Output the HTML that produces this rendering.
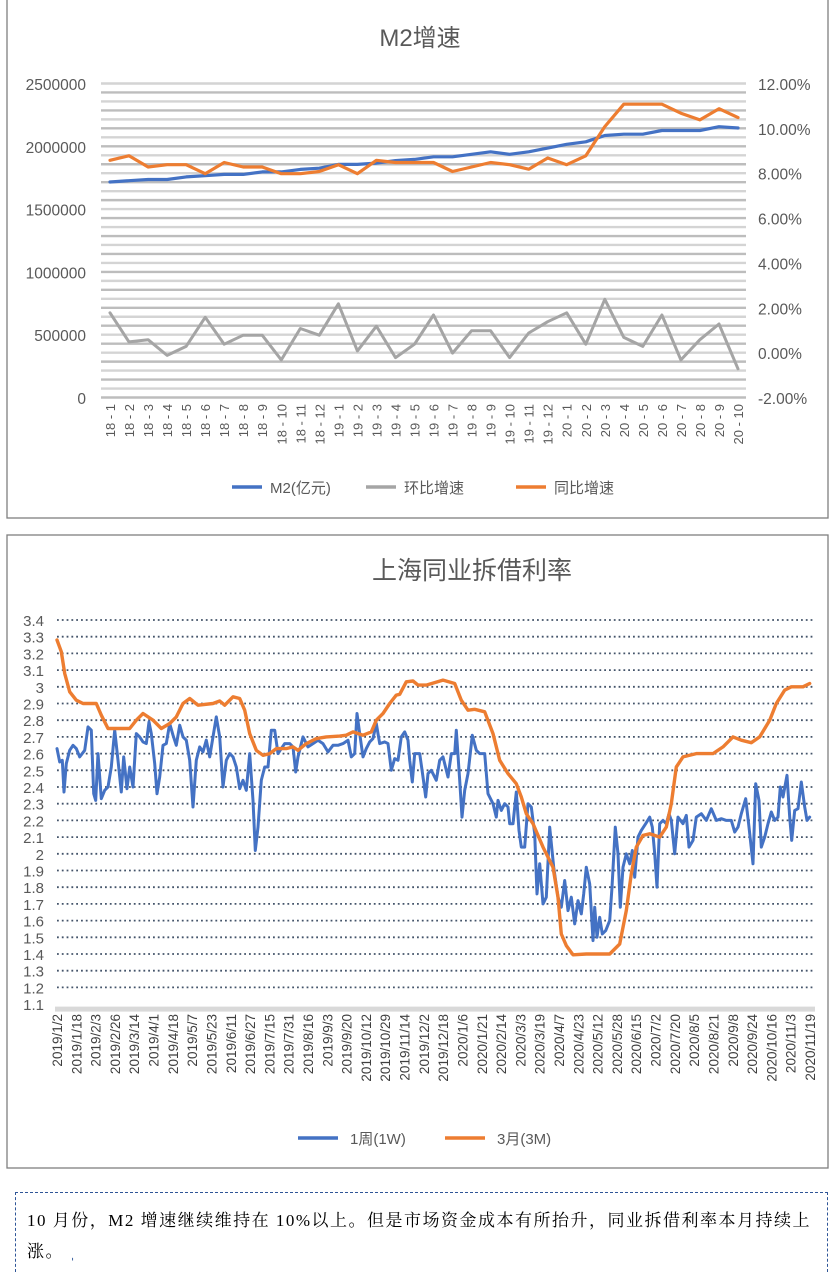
<!DOCTYPE html>
<html><head><meta charset="utf-8"><style>
body{margin:0;width:834px;height:1274px;background:#fff;overflow:hidden;font-family:"Liberation Sans","Noto Sans CJK SC",sans-serif}
svg{position:absolute;left:0;top:0}
.box{position:absolute;left:15px;top:1192px;width:813px;height:80px;border:1.5px dashed #2f5597;border-bottom:none;box-sizing:border-box}
.txt{position:absolute;left:27px;top:1205px;width:796px;font-family:"Liberation Serif","Noto Serif CJK SC",serif;font-size:17px;letter-spacing:1.5px;line-height:31px;color:#000}
</style></head><body>
<svg id="s" width="834" height="1274"></svg>
<div class="box"></div>
<div class="txt">10 月份，M2 增速继续维持在 10%以上。但是市场资金成本有所抬升，同业拆借利率本月持续上涨。 <span style="color:#2f5597">ˌ</span></div>
<script>
// ---- Top chart data ----
const months=["18-1","18-2","18-3","18-4","18-5","18-6","18-7","18-8","18-9","18-10","18-11","18-12","19-1","19-2","19-3","19-4","19-5","19-6","19-7","19-8","19-9","19-10","19-11","19-12","20-1","20-2","20-3","20-4","20-5","20-6","20-7","20-8","20-9","20-10"];
const m2=[1720000,1730000,1740000,1740000,1760000,1770000,1780000,1780000,1800000,1800000,1820000,1830000,1860000,1860000,1870000,1890000,1900000,1920000,1920000,1940000,1960000,1940000,1960000,1990000,2020000,2040000,2090000,2100000,2100000,2130000,2130000,2130000,2160000,2150000];
const mom=[1.8,0.5,0.6,-0.1,0.3,1.6,0.4,0.8,0.8,-0.3,1.1,0.8,2.2,0.1,1.2,-0.2,0.4,1.7,0,1.0,1.0,-0.2,0.9,1.4,1.8,0.4,2.4,0.7,0.3,1.7,-0.3,0.6,1.3,-0.7];
const yoy=[8.6,8.8,8.3,8.4,8.4,8.0,8.5,8.3,8.3,8.0,8.0,8.1,8.4,8.0,8.6,8.5,8.5,8.5,8.1,8.3,8.5,8.4,8.2,8.7,8.4,8.8,10.1,11.1,11.1,11.1,10.7,10.4,10.9,10.5];
const leftTicks=[0,500000,1000000,1500000,2000000,2500000];
const rightTicks=[-2,0,2,4,6,8,10,12];
// ---- Bottom chart data ----
const dateLabels=["2019/1/2","2019/1/18","2019/2/3","2019/2/26","2019/3/14","2019/4/1","2019/4/18","2019/5/7","2019/5/23","2019/6/11","2019/6/27","2019/7/15","2019/7/31","2019/8/16","2019/9/3","2019/9/20","2019/10/12","2019/10/29","2019/11/14","2019/12/2","2019/12/18","2020/1/6","2020/1/21","2020/2/14","2020/3/3","2020/3/19","2020/4/7","2020/4/23","2020/5/12","2020/5/28","2020/6/15","2020/7/2","2020/7/20","2020/8/5","2020/8/21","2020/9/8","2020/9/24","2020/10/16","2020/11/3","2020/11/19"];
const rateTicks=[1.1,1.2,1.3,1.4,1.5,1.6,1.7,1.8,1.9,2,2.1,2.2,2.3,2.4,2.5,2.6,2.7,2.8,2.9,3,3.1,3.2,3.3,3.4];
// observation index (0..2259 spans 2019/1/2..2020/11/19)
const m3Idx=[0,13,23,38,58,78,118,133,153,178,218,238,258,288,313,338,358,378,398,423,468,488,503,528,548,563,578,598,618,638,658,688,708,723,748,778,808,848,868,888,918,943,958,978,998,1018,1028,1048,1068,1083,1108,1158,1193,1213,1233,1253,1283,1308,1328,1353,1378,1393,1408,1428,1458,1488,1503,1513,1528,1548,1588,1658,1688,1708,1723,1738,1758,1778,1808,1828,1843,1858,1878,1918,1968,1998,2028,2053,2083,2108,2138,2158,2183,2203,2238,2258];
const m3=[3.28,3.21,3.08,2.97,2.92,2.90,2.90,2.83,2.75,2.75,2.75,2.80,2.84,2.80,2.75,2.78,2.82,2.90,2.93,2.89,2.90,2.915,2.89,2.94,2.93,2.86,2.72,2.62,2.59,2.60,2.63,2.63,2.64,2.62,2.66,2.69,2.70,2.705,2.71,2.73,2.71,2.73,2.80,2.84,2.90,2.95,2.955,3.03,3.035,3.01,3.01,3.04,3.02,2.92,2.86,2.865,2.85,2.72,2.56,2.48,2.42,2.34,2.24,2.18,2.04,1.92,1.74,1.52,1.45,1.395,1.40,1.40,1.46,1.66,1.88,2.04,2.11,2.12,2.10,2.16,2.30,2.52,2.58,2.60,2.60,2.64,2.70,2.68,2.665,2.70,2.80,2.90,2.98,3.00,3.00,3.02];
const w1Idx=[0,8,16,21,28,38,48,58,68,83,93,103,110,116,123,133,143,153,163,173,183,193,200,210,218,228,238,248,258,268,276,283,293,300,308,318,328,338,348,358,368,378,388,398,408,418,428,438,448,458,468,478,488,498,508,518,528,538,548,558,568,578,588,595,603,613,623,633,643,653,663,673,683,698,708,716,723,738,753,768,783,798,813,828,843,858,873,883,893,900,908,918,928,938,948,958,968,983,993,1003,1013,1023,1033,1043,1053,1058,1066,1073,1088,1098,1106,1113,1123,1138,1148,1158,1173,1183,1193,1198,1208,1215,1223,1233,1246,1258,1268,1283,1293,1308,1318,1323,1333,1343,1353,1358,1368,1378,1386,1393,1403,1413,1423,1433,1440,1448,1458,1468,1478,1490,1503,1513,1523,1533,1543,1553,1563,1573,1580,1588,1598,1608,1613,1620,1628,1636,1646,1658,1665,1675,1683,1690,1698,1708,1718,1726,1733,1743,1753,1766,1778,1786,1793,1800,1808,1818,1828,1836,1843,1853,1863,1878,1888,1896,1908,1918,1933,1948,1963,1978,1993,2008,2023,2033,2043,2053,2066,2076,2088,2096,2106,2113,2123,2133,2143,2153,2163,2170,2178,2190,2198,2204,2213,2223,2233,2243,2250,2258];
const w1=[2.63,2.55,2.56,2.37,2.54,2.62,2.65,2.63,2.58,2.62,2.76,2.74,2.36,2.32,2.60,2.33,2.38,2.40,2.52,2.74,2.56,2.37,2.58,2.39,2.52,2.40,2.72,2.70,2.67,2.66,2.79,2.72,2.54,2.36,2.46,2.65,2.66,2.78,2.71,2.65,2.77,2.70,2.68,2.56,2.28,2.56,2.64,2.61,2.68,2.58,2.70,2.82,2.70,2.40,2.56,2.60,2.58,2.52,2.39,2.44,2.38,2.60,2.32,2.02,2.16,2.44,2.52,2.52,2.74,2.74,2.60,2.63,2.66,2.66,2.64,2.49,2.58,2.70,2.64,2.66,2.68,2.66,2.61,2.65,2.65,2.66,2.68,2.58,2.60,2.84,2.72,2.58,2.63,2.67,2.69,2.78,2.66,2.67,2.66,2.50,2.57,2.56,2.70,2.73,2.68,2.56,2.43,2.60,2.60,2.46,2.34,2.48,2.50,2.44,2.56,2.58,2.46,2.60,2.60,2.74,2.44,2.22,2.38,2.48,2.71,2.62,2.60,2.60,2.36,2.30,2.22,2.32,2.26,2.30,2.28,2.18,2.18,2.37,2.14,2.04,2.04,2.30,2.28,2.12,1.76,1.94,1.70,1.74,2.16,1.92,1.74,1.68,1.84,1.66,1.74,1.58,1.72,1.64,1.76,1.92,1.82,1.48,1.68,1.50,1.62,1.52,1.54,1.60,1.80,2.16,2.00,1.68,1.92,2.00,1.94,2.02,1.86,2.10,2.14,2.18,2.22,2.16,2.00,1.80,2.18,2.20,2.18,2.24,2.20,2.00,2.22,2.18,2.23,2.04,2.08,2.22,2.24,2.20,2.27,2.20,2.21,2.20,2.20,2.13,2.16,2.24,2.33,2.16,1.94,2.42,2.32,2.04,2.10,2.18,2.25,2.20,2.22,2.40,2.34,2.47,2.22,2.08,2.26,2.27,2.43,2.28,2.20,2.22];

const NS="http://www.w3.org/2000/svg";
const svg=document.getElementById('s');
function mk(tag,attrs,parent){const e=document.createElementNS(NS,tag);for(const k in attrs)e.setAttribute(k,attrs[k]);(parent||svg).appendChild(e);return e;}
function txt(str,attrs,parent){const e=mk('text',attrs,parent);e.textContent=str;return e;}

// Panels
const p1=mk('rect',{x:7,y:-2,width:821,height:520,fill:'none',stroke:'#7f7f7f','stroke-width':1.3});


const p2=mk('rect',{x:7,y:535,width:821,height:633,fill:'none',stroke:'#7f7f7f','stroke-width':1.3});



// ===== Top chart =====
const X1=i=>110+i*(628/(months.length-1));
const YL=v=>398-v/2500000*314;
const YR=p=>398-(p+2)/14*314;
const g1=mk('g',{});


for(let k=0;k<=35;k++){
  const y=83.5+k*(314/35);
  const gl=mk('line',{x1:101,x2:746,y1:y,y2:y,stroke:k%2?'#bdbdbd':'#d4d4d4','stroke-width':2.4},g1);
  
  
}
const t1=txt('M2增速',{x:420,y:46,'text-anchor':'middle','font-size':24,fill:'#595959'},g1);


leftTicks.forEach(v=>{const t=txt(String(v),{x:86,y:YL(v)+6,'text-anchor':'end','font-size':15.5,fill:'#595959'},g1);
  
  });
rightTicks.forEach(v=>{const t=txt(v.toFixed(2)+'%',{x:758,y:YR(v)+6,'font-size':15.5,fill:'#595959'},g1);
  
  });
months.forEach((m,i)=>{const t=txt(m.replace('-',' - '),{x:0,y:0,transform:`translate(${X1(i)+5},404) rotate(-90)`,'text-anchor':'end','font-size':13,fill:'#595959'},g1);
  
  });
function poly(xs,ys,color,w,name,parent){const pts=xs.map((x,i)=>x.toFixed(1)+','+ys[i].toFixed(1)).join(' ');
  const p=mk('polyline',{points:pts,fill:'none',stroke:color,'stroke-width':w,'stroke-linejoin':'round','stroke-linecap':'round'},parent);
  
  return p;}
poly(months.map((_,i)=>X1(i)),mom.map(YR),'#a5a5a5',3,'mom-growth-line',g1);
poly(months.map((_,i)=>X1(i)),m2.map(YL),'#4472c4',3.2,'m2-line',g1);
poly(months.map((_,i)=>X1(i)),yoy.map(YR),'#ed7d31',3.2,'yoy-growth-line',g1);
[[232,'#4472c4','M2(亿元)','legend-m2'],[366,'#a5a5a5','环比增速','legend-mom'],[516,'#ed7d31','同比增速','legend-yoy']].forEach(([x,c,l,n])=>{
  const g=mk('g',{},g1);
  
  
  mk('line',{x1:x,x2:x+30,y1:487,y2:487,stroke:c,'stroke-width':3.5},g);
  txt(l,{x:x+38,y:493,'font-size':15,fill:'#595959'},g);
});

// ===== Bottom chart =====
const X2=d=>57+d/2259*753;
const Y2=v=>620+(3.4-v)*167;
const g2=mk('g',{});


const t2=txt('上海同业拆借利率',{x:472,y:579,'text-anchor':'middle','font-size':25,fill:'#595959'},g2);


rateTicks.forEach(v=>{
  if(v>1.15){const l=mk('line',{x1:57,x2:815,y1:Y2(v),y2:Y2(v),stroke:'#44546a','stroke-width':1.8,'stroke-dasharray':'1.8,3'},g2);
    
    }
  const t=txt(String(v),{x:44,y:Y2(v)+6,'text-anchor':'end','font-size':15,fill:'#595959'},g2);
  
  
});
const ax=mk('line',{x1:55,x2:815,y1:Y2(1.1)+5,y2:Y2(1.1)+5,stroke:'#d9d9d9','stroke-width':5},g2);


dateLabels.forEach((d,i)=>{const t=txt(d,{x:0,y:0,transform:`translate(${57+i*753/39+5},1014) rotate(-90)`,'text-anchor':'end','font-size':13.5,fill:'#404040'},g2);
  
  });
poly(w1Idx.map(X2),w1.map(Y2),'#4472c4',3,'series-1w-line',g2);
poly(m3Idx.map(X2),m3.map(Y2),'#ed7d31',3.4,'series-3m-line',g2);
[[298,'#4472c4','1周(1W)','legend-1w'],[445,'#ed7d31','3月(3M)','legend-3m']].forEach(([x,c,l,n])=>{
  const g=mk('g',{},g2);
  
  
  mk('line',{x1:x,x2:x+40,y1:1138,y2:1138,stroke:c,'stroke-width':3.5},g);
  txt(l,{x:x+52,y:1144,'font-size':15,fill:'#595959'},g);
});
</script>
</body></html>
